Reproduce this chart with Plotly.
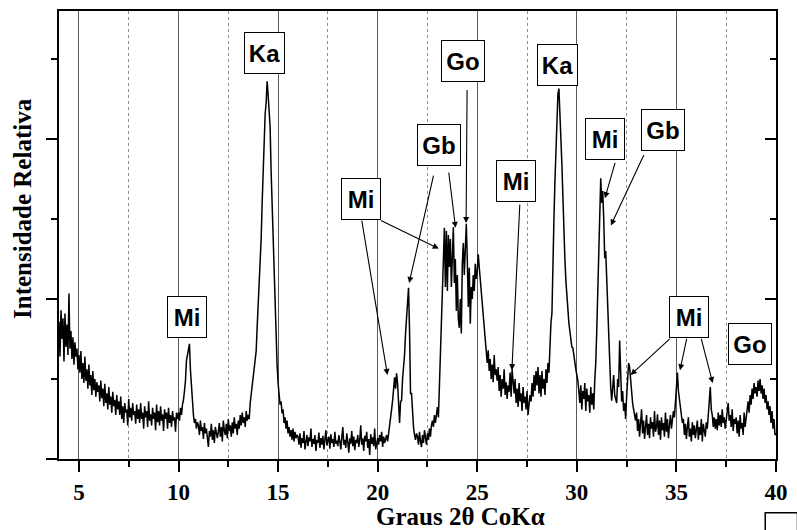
import numpy as np
import plotly.graph_objects as go

# Step scan: 4.00 to 40.00 degrees 2-theta, 0.05 degree step
scan_start = 4.0
scan_step = 0.05

# Relative intensity, one row of 20 readings per degree (4-39), then the last reading at 40.00
int_04 = [172, 128, 186, 150, 176, 122, 182, 140, 168, 130, 207, 138, 160, 125, 152, 118, 146, 128, 138, 112]
int_05 = [130, 108, 135, 100, 120, 95, 128, 98, 112, 88, 118, 92, 105, 80, 110, 86, 100, 78, 96, 84]
int_06 = [92, 72, 98, 76, 88, 66, 94, 70, 82, 62, 90, 68, 78, 58, 84, 66, 74, 55, 80, 62]
int_07 = [72, 55, 78, 50, 66, 45, 70, 58, 62, 42, 75, 52, 64, 48, 70, 55, 60, 44, 68, 50]
int_08 = [62, 45, 70, 50, 58, 38, 66, 52, 60, 40, 72, 48, 56, 42, 64, 50, 58, 36, 68, 46]
int_09 = [60, 42, 66, 48, 56, 35, 62, 50, 58, 38, 64, 45, 55, 40, 60, 48, 52, 34, 58, 50]
int_10 = [58, 48, 64, 55, 68, 74, 85, 98, 123, 130, 138, 144, 111, 90, 61, 55, 45, 50, 38, 46]
int_11 = [42, 30, 48, 35, 40, 25, 45, 32, 38, 22, 15, 35, 28, 44, 24, 36, 20, 40, 30, 26]
int_12 = [34, 45, 28, 40, 22, 48, 36, 30, 44, 26, 50, 35, 42, 28, 46, 32, 52, 38, 44, 30]
int_13 = [48, 38, 55, 42, 58, 45, 52, 40, 60, 48, 55, 50, 70, 82, 90, 100, 112, 125, 135, 165]
int_14 = [190, 215, 245, 275, 320, 360, 395, 431, 445, 472, 455, 440, 415, 360, 319, 265, 214, 180, 140, 118]
int_15 = [95, 82, 68, 72, 57, 62, 45, 52, 38, 48, 32, 40, 28, 36, 24, 38, 22, 34, 26, 30]
int_16 = [28, 18, 32, 14, 26, 20, 35, 12, 24, 30, 16, 27, 22, 38, 15, 25, 19, 30, 10, 24]
int_17 = [20, 33, 14, 26, 18, 29, 12, 24, 36, 17, 22, 28, 13, 31, 20, 25, 15, 34, 19, 23]
int_18 = [16, 30, 22, 12, 27, 40, 18, 24, 14, 32, 21, 8, 26, 19, 35, 16, 28, 11, 24, 20]
int_19 = [30, 15, 24, 42, 18, 26, 10, 29, 22, 34, 14, 25, 5, 31, 19, 27, 16, 38, 12, 23]
int_20 = [26, 18, 30, 22, 34, 15, 28, 20, 24, 30, 22, 34, 40, 52, 62, 73, 90, 102, 88, 107]
int_21 = [95, 70, 45, 72, 73, 100, 113, 130, 157, 180, 200, 214, 161, 82, 82, 55, 40, 30, 24, 32]
int_22 = [28, 18, 34, 22, 15, 30, 20, 36, 25, 18, 32, 24, 38, 28, 42, 48, 40, 55, 45, 58]
int_23 = [65, 52, 95, 140, 177, 235, 251, 289, 215, 285, 210, 280, 240, 275, 215, 262, 290, 220, 250, 185]
int_24 = [230, 175, 164, 200, 157, 245, 270, 230, 280, 294, 250, 190, 239, 169, 215, 200, 230, 210, 244, 225]
int_25 = [235, 256, 240, 225, 210, 194, 175, 160, 144, 130, 120, 136, 110, 125, 100, 118, 96, 130, 105, 112]
int_26 = [98, 115, 85, 105, 78, 100, 88, 112, 80, 96, 75, 92, 84, 108, 78, 112, 95, 82, 100, 70]
int_27 = [88, 65, 95, 72, 82, 60, 90, 70, 78, 62, 85, 55, 68, 80, 72, 95, 78, 105, 85, 110]
int_28 = [92, 115, 82, 105, 78, 110, 88, 100, 80, 112, 95, 120, 108, 144, 170, 182, 270, 300, 347, 380]
int_29 = [410, 456, 463, 440, 400, 368, 320, 285, 250, 223, 200, 182, 170, 160, 150, 140, 139, 128, 118, 112]
int_30 = [105, 98, 85, 70, 92, 62, 85, 75, 95, 60, 88, 72, 80, 58, 90, 68, 82, 62, 98, 120]
int_31 = [160, 202, 250, 294, 351, 320, 335, 300, 251, 260, 220, 182, 140, 115, 90, 73, 95, 105, 80, 72]
int_32 = [70, 100, 90, 148, 110, 72, 85, 60, 70, 50, 78, 100, 120, 115, 95, 80, 70, 62, 55, 48]
int_33 = [58, 35, 50, 28, 45, 62, 32, 48, 25, 40, 55, 30, 44, 26, 52, 38, 46, 28, 60, 34]
int_34 = [40, 56, 30, 48, 24, 52, 36, 45, 28, 58, 34, 50, 26, 42, 55, 38, 47, 60, 52, 73]
int_35 = [90, 108, 85, 73, 60, 52, 45, 50, 30, 44, 25, 40, 52, 28, 38, 22, 46, 30, 42, 26]
int_36 = [36, 48, 24, 40, 30, 50, 22, 44, 35, 28, 46, 38, 55, 75, 90, 62, 55, 40, 52, 38]
int_37 = [50, 36, 58, 42, 55, 40, 62, 45, 52, 38, 48, 60, 70, 48, 55, 40, 62, 35, 50, 44]
int_38 = [52, 32, 48, 28, 55, 38, 45, 30, 58, 40, 50, 62, 72, 58, 80, 68, 88, 75, 95, 82]
int_39 = [90, 78, 98, 85, 100, 82, 92, 75, 88, 70, 80, 62, 72, 55, 66, 45, 60, 38, 50, 30]
int_40 = [32]

rows = [int_04, int_05, int_06, int_07, int_08, int_09, int_10, int_11, int_12, int_13,
        int_14, int_15, int_16, int_17, int_18, int_19, int_20, int_21, int_22, int_23,
        int_24, int_25, int_26, int_27, int_28, int_29, int_30, int_31, int_32, int_33,
        int_34, int_35, int_36, int_37, int_38, int_39, int_40]
intensity = [v for r in rows for v in r]
two_theta = scan_start + scan_step * np.arange(len(intensity))

# Phase labels: (text, x, y, box width)
phase_labels = [
    ("Ka", 14.30, 508, 33),
    ("Go", 24.26, 498, 36),
    ("Ka", 29.05, 492, 33),
    ("Gb", 23.07, 393, 36),
    ("Mi", 19.17, 325, 32),
    ("Mi", 26.94, 347, 32),
    ("Mi", 31.43, 400, 32),
    ("Gb", 34.34, 411, 36),
    ("Mi", 10.41, 178, 32),
    ("Mi", 35.63, 178, 32),
    ("Go", 38.71, 144, 36),
]

# Pointer arrows: (tail x, tail y, head x, head y)
pointers = [
    (24.49, 463, 24.44, 295),
    (22.82, 356, 21.58, 220),
    (23.56, 360, 23.91, 289),
    (19.19, 300, 20.49, 105),
    (20.09, 299, 23.07, 263),
    (27.14, 320, 26.74, 111),
    (31.94, 372, 31.41, 326),
    (33.40, 382, 31.71, 292),
    (34.74, 152, 32.70, 105),
    (35.53, 152, 35.18, 111),
    (36.23, 152, 36.82, 95),
]

fig = go.Figure()
fig.add_trace(go.Scatter(
    x=two_theta, y=intensity, mode="lines",
    line=dict(color="black", width=1.5), showlegend=False, hoverinfo="skip",
))
# empty trace carrying the right-hand axis
fig.add_trace(go.Scatter(x=[None], y=[None], yaxis="y2", showlegend=False, hoverinfo="skip"))

serif = "Liberation Serif, Times New Roman, serif"
sans = "Liberation Sans, Arial, sans-serif"

annotations = []
for text, x, y, w in phase_labels:
    annotations.append(dict(
        x=x, y=y, xref="x", yref="y", text=f"<b>{text}</b>", showarrow=False,
        font=dict(family=sans, size=24, color="black"),
        bgcolor="white", bordercolor="black", borderwidth=1, borderpad=3,
        width=w, height=34, align="center", valign="middle",
    ))
for tx, ty, hx, hy in pointers:
    annotations.append(dict(
        x=hx, y=hy, xref="x", yref="y", ax=tx, ay=ty, axref="x", ayref="y",
        text="", showarrow=True, arrowhead=2, arrowsize=1.1, arrowwidth=1.1,
        arrowcolor="black", standoff=0, startstandoff=0,
    ))

# axis titles
annotations.append(dict(
    x=0.56, y=-0.129, xref="paper", yref="paper", xanchor="center", yanchor="middle",
    text="<b>Graus 2θ CoKα</b>", showarrow=False,
    font=dict(family=serif, size=25, color="black"),
))
annotations.append(dict(
    x=-0.051, y=0.559, xref="paper", yref="paper", xanchor="center", yanchor="middle",
    text="<b>Intensidade Relativa</b>", showarrow=False, textangle=-90,
    font=dict(family=serif, size=25, color="black"),
))

fig.update_layout(
    width=797, height=530,
    margin=dict(l=59, r=13, t=9, b=71),
    plot_bgcolor="white", paper_bgcolor="white",
    annotations=annotations,
    xaxis=dict(
        range=[4, 40], tick0=0, dtick=5, ticks="outside", ticklen=11, tickwidth=2,
        tickcolor="black", showline=True, linewidth=2, linecolor="black", mirror=True,
        showgrid=True, gridcolor="#5a5a5a", gridwidth=1, zeroline=False,
        tickfont=dict(family=serif, size=23, color="black", weight="bold"),
        minor=dict(dtick=2.5, tick0=0, ticks="outside", ticklen=6, tickwidth=2,
                   tickcolor="black", showgrid=True, gridcolor="#8c8c8c",
                   griddash="dot", gridwidth=1),
    ),
    yaxis=dict(
        range=[0, 560], tick0=0, dtick=200, ticks="outside", ticklen=11, tickwidth=2,
        tickcolor="black", showticklabels=False, showline=True, linewidth=2,
        linecolor="black", mirror=True, showgrid=False, zeroline=False,
        minor=dict(dtick=100, tick0=0, ticks="outside", ticklen=6, tickwidth=2,
                   tickcolor="black", showgrid=False),
    ),
    yaxis2=dict(
        overlaying="y", side="right", range=[0, 560], tick0=0, dtick=200,
        ticks="inside", ticklen=11, tickwidth=2, tickcolor="black",
        showticklabels=False, showline=False, showgrid=False, zeroline=False,
        minor=dict(dtick=100, tick0=0, ticks="inside", ticklen=6, tickwidth=2,
                   tickcolor="black", showgrid=False),
    ),
    shapes=[dict(type="rect", xref="paper", yref="paper",
                 x0=0.985, x1=1.03, y0=-0.12, y1=-0.18,
                 line=dict(color="black", width=1.5), fillcolor="white")],
)

fig.write_html("out.html")
